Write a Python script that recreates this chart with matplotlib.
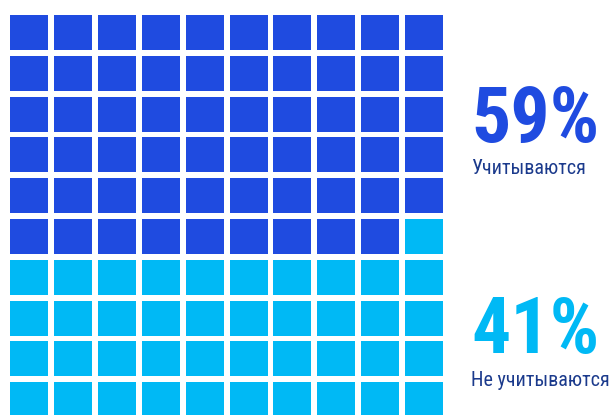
import matplotlib
matplotlib.use("Agg")
import matplotlib.pyplot as plt
from matplotlib.patches import Rectangle

# data
categories = ["Учитываются", "Не учитываются"]
values = [59, 41]
colors = ["#1f4be0", "#00b9f5"]
label_color = "#1b3a8c"

n_cols, n_rows = 10, 10

fig = plt.figure(figsize=(6.16, 4.15), dpi=100)
ax = fig.add_axes([0, 0, 1, 1])
ax.set_xlim(0, 616)
ax.set_ylim(415, 0)
ax.axis("off")

# layout
x0, px, w = 10, 43.9, 38
y0, py, h = 15, 40.8, 35

cell_colors = []
for v, c in zip(values, colors):
    cell_colors += [c] * v

for i, c in enumerate(cell_colors):
    r, col = divmod(i, n_cols)
    ax.add_patch(Rectangle((x0 + col * px, y0 + r * py), w, h,
                           facecolor=c, edgecolor="none"))

fam = ["Liberation Sans Narrow", "Roboto Condensed", "DejaVu Sans"]
ax.text(471, 142, f"{values[0]}%", fontsize=56, fontweight="bold",
        color=colors[0], family=fam, ha="left", va="baseline")
ax.text(471, 174, categories[0], fontsize=14.5, color=label_color,
        family=fam, ha="left", va="baseline")
ax.text(471, 353, f"{values[1]}%", fontsize=56, fontweight="bold",
        color=colors[1], family=fam, ha="left", va="baseline")
ax.text(471, 386, categories[1], fontsize=14.5, color=label_color,
        family=fam, ha="left", va="baseline")

fig.savefig("out.png", dpi=100)
